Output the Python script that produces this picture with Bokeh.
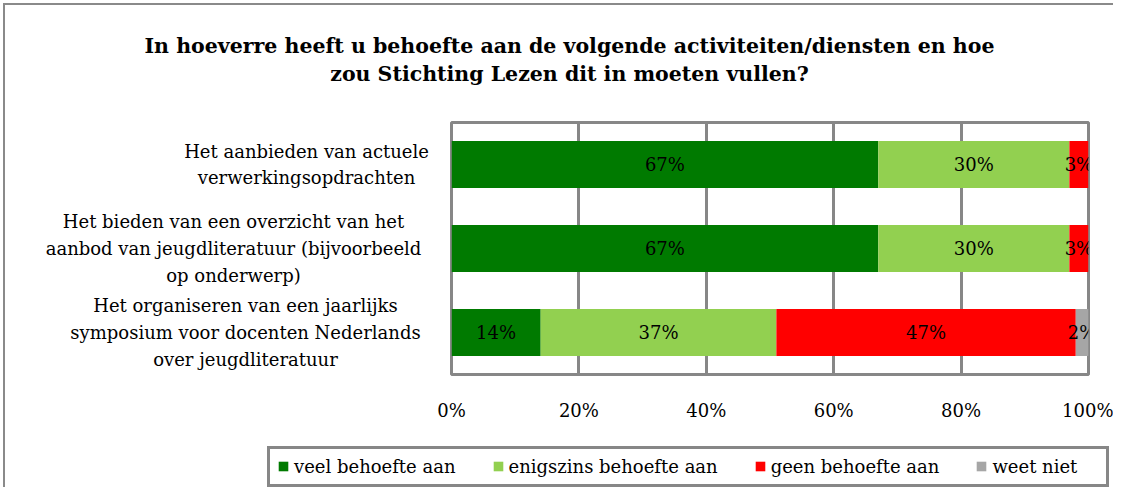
from bokeh.plotting import figure
from bokeh.layouts import column, row
from bokeh.models import (Range1d, FixedTicker, Legend, LegendItem,
                          ColumnDataSource)
from bokeh.core.properties import value
from bokeh.embed import file_html
from bokeh.resources import INLINE

# ---------------- data ----------------
title_lines = [
    "In hoeverre heeft u behoefte aan de volgende activiteiten/diensten en hoe",
    "zou Stichting Lezen dit in moeten vullen?",
]
categories = [
    "Het aanbieden van actuele\nverwerkingsopdrachten",
    "Het bieden van een overzicht van het\naanbod van jeugdliteratuur (bijvoorbeeld\nop onderwerp)",
    "Het organiseren van een jaarlijks\nsymposium voor docenten Nederlands\nover jeugdliteratuur",
]
series = ["veel behoefte aan", "enigszins behoefte aan", "geen behoefte aan", "weet niet"]
veel = [67, 67, 14]
enigszins = [30, 30, 37]
geen = [3, 3, 47]
weet_niet = [0, 0, 2]
tick_values = [0, 20, 40, 60, 80, 100]
tick_labels = ["0%", "20%", "40%", "60%", "80%", "100%"]
colors = ["#007A00", "#92D050", "#FF0000", "#A6A6A6"]

FONT = "DejaVu Serif"
GRID = "#878787"
W, TOP_H, MID_H, LEG_H = 1113, 100, 341, 46
LABEL_W = 436
FRAME_H = 252

n = len(categories)
ys = [n - 1 - i for i in range(n)]
keys = ["s0", "s1", "s2", "s3"]
src = ColumnDataSource(dict(y=ys, s0=veel, s1=enigszins, s2=geen, s3=weet_niet))
y_range = Range1d(-0.5, n - 0.5)


def blank(width, height, x_range, y_rng):
    f = figure(width=width, height=height, output_backend="svg",
               toolbar_location=None, x_range=x_range, y_range=y_rng,
               x_axis_type=None, y_axis_type=None, min_border=0, title=None)
    f.outline_line_color = None
    f.border_fill_alpha = 0
    f.background_fill_alpha = 0
    return f


# ---------------- title ----------------
tf = blank(W, TOP_H, Range1d(0, W), Range1d(TOP_H, 0))
tf.text(x=[569, 569], y=[45, 73], text=title_lines, text_align="center",
        text_baseline="middle", text_font=value(FONT),
        text_font_style="bold", text_font_size="20.5px", text_color="#000000")

# ---------------- category labels ----------------
lf = blank(LABEL_W, MID_H, Range1d(0, LABEL_W), y_range)
lf.min_border_top = 22
lf.min_border_bottom = MID_H - 22 - FRAME_H
lf.text(x=[306, 233, 245], y=ys, text=categories, text_align="center",
        text_baseline="middle", text_font=value(FONT), text_font_size="18px",
        text_line_height=1.28, text_color="#000000")

# ---------------- main chart ----------------
p = figure(width=W - LABEL_W, height=MID_H, output_backend="svg",
           toolbar_location=None, x_range=Range1d(0, 100), y_range=y_range,
           min_border_left=15, min_border_right=25, min_border_top=22,
           min_border_bottom=MID_H - 22 - FRAME_H, title=None)
p.border_fill_alpha = 0

renderers = p.hbar_stack(keys, y="y", height=0.56, color=colors, source=src,
                         line_color=None)

lx, ly, lt = [], [], []
vals = [veel, enigszins, geen, weet_niet]
for r in range(n):
    acc = 0
    for s in range(len(vals)):
        v = vals[s][r]
        if v > 0:
            lx.append(acc + v / 2)
            ly.append(ys[r])
            lt.append(f"{v}%")
        acc += v
p.text(x=lx, y=ly, text=lt, text_align="center", text_baseline="middle",
       text_font=value(FONT), text_font_size="18px", text_color="#000000")

p.yaxis.visible = False
p.ygrid.visible = False
p.xaxis.ticker = FixedTicker(ticks=tick_values)
p.xgrid.ticker = FixedTicker(ticks=tick_values)
p.xaxis.major_label_overrides = {t: l for t, l in zip(tick_values, tick_labels)}
p.xaxis.axis_line_color = None
p.xaxis.major_tick_line_color = None
p.xaxis.minor_tick_line_color = None
p.xaxis.major_label_standoff = 19
p.xaxis.major_label_text_font = FONT
p.xaxis.major_label_text_font_size = "18px"
p.xaxis.major_label_text_color = "#000000"
p.xgrid.grid_line_color = GRID
p.xgrid.grid_line_width = 3
p.outline_line_color = GRID
p.outline_line_width = 3
p.background_fill_color = "white"

# ---------------- legend (separate strip; proxies share the data but lie
# outside this strip's visible range) ----------------
gf = blank(W, LEG_H, Range1d(0, W), Range1d(1000, 1000 + LEG_H))
proxies = gf.hbar_stack(keys, y="y", height=0.56, color=colors, source=src,
                        line_color=None)
items = [LegendItem(label=s, renderers=[rr]) for s, rr in zip(series, proxies)]
legend = Legend(items=items, orientation="horizontal", location=(267, 0.5),
                spacing=36, glyph_width=12, glyph_height=12, label_standoff=5,
                label_width=107,
                label_text_font=FONT, label_text_font_size="18px",
                label_text_color="#000000", padding=7, margin=0,
                border_line_color=GRID, border_line_width=3,
                border_line_alpha=1.0,
                background_fill_color="white", background_fill_alpha=1.0)
gf.add_layout(legend)

layout = column(tf, row(lf, p), gf)
layout.styles = {"box-shadow": "inset 3px 3px 0 0 #ffffff, inset 5px 5px 0 0 #8a8a8a"}

open("out.html", "w").write(file_html(layout, INLINE))
